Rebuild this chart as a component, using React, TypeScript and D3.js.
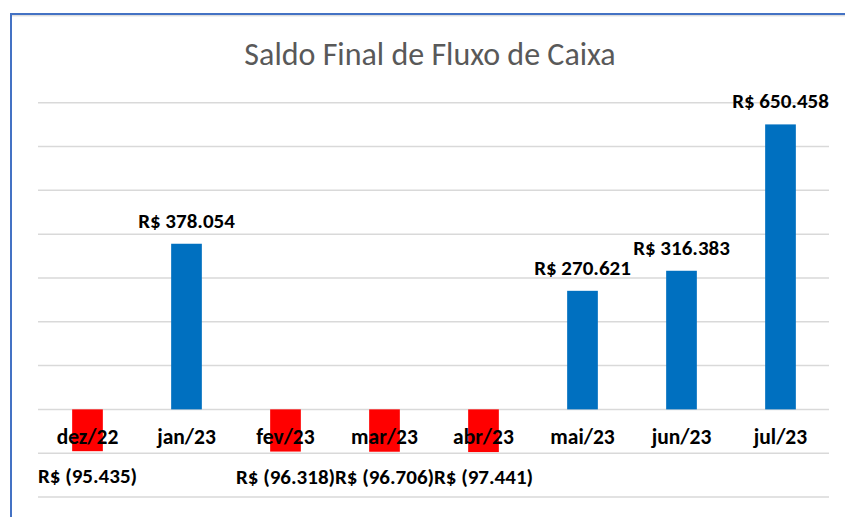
import * as d3 from 'd3'

const categories = ['dez/22', 'jan/23', 'fev/23', 'mar/23', 'abr/23', 'mai/23', 'jun/23', 'jul/23']
const saldo = [-95435, 378054, -96318, -96706, -97441, 270621, 316383, 650458]
const yDomain = [-200000, 700000]
const title = 'Saldo Final de Fluxo de Caixa'

const W = 845
const H = 517
const FONT = 'Calibri, Carlito, Lato, sans-serif'

const fmtNum = d3.formatLocale({ decimal: ',', thousands: '.', grouping: [3], currency: ['R$ ', ''] }).format(',.0f')
const fmtLabel = (v: number) => (v < 0 ? `R$ (${fmtNum(-v)})` : `R$ ${fmtNum(v)}`)

export default function App() {
  const x = d3.scaleBand().domain(categories).range([38, 830]).paddingInner(0.69).paddingOuter(0.345)
  const y = d3.scaleLinear().domain(yDomain).range([497, 102.7])
  const grid = d3.range(yDomain[0], yDomain[1] + 1, 100000)
  const data = categories.map((c, i) => ({ cat: c, value: saldo[i] }))

  return (
    <svg width={W} height={H} style={{ position: 'absolute', left: 0, top: 0, display: 'block', background: '#fff' }}>
      {/* chart frame, cut off at the right and bottom */}
      <rect x={11} y={14} width={W + 20} height={H + 20} fill="#fff" stroke="#4472C4" strokeWidth={2} />
      <line x1={12} x2={W} y1={15.8} y2={15.8} stroke="#d0d0d0" strokeWidth={1} />

      <text x={430} y={65} textAnchor="middle" fontFamily={FONT} fontSize={32} fill="#595959">
        {title}
      </text>

      {grid.map((g) => (
        <line key={g} x1={38} x2={829} y1={y(g)} y2={y(g)} stroke="#D9D9D9" strokeWidth={1.5} />
      ))}

      {data.map((d) => (
        <rect
          key={d.cat}
          x={x(d.cat)}
          width={x.bandwidth()}
          y={y(Math.max(0, d.value))}
          height={Math.abs(y(d.value) - y(0))}
          fill={d.value < 0 ? '#FF0000' : '#0070C0'}
        />
      ))}

      {data.map((d) => (
        <text
          key={'c' + d.cat}
          x={(x(d.cat) ?? 0) + x.bandwidth() / 2}
          y={444}
          textAnchor="middle"
          fontFamily={FONT}
          fontWeight="bold"
          fontSize={21.5}
          fill="#000"
        >
          {d.cat}
        </text>
      ))}

      {data.map((d) => (
        <text
          key={'v' + d.cat}
          x={(x(d.cat) ?? 0) + x.bandwidth() / 2}
          y={d.value < 0 ? y(d.value) + 32 : y(d.value) - 16}
          textAnchor="middle"
          fontFamily={FONT}
          fontWeight="bold"
          fontSize={21}
          fill="#000"
        >
          {fmtLabel(d.value)}
        </text>
      ))}
    </svg>
  )
}
